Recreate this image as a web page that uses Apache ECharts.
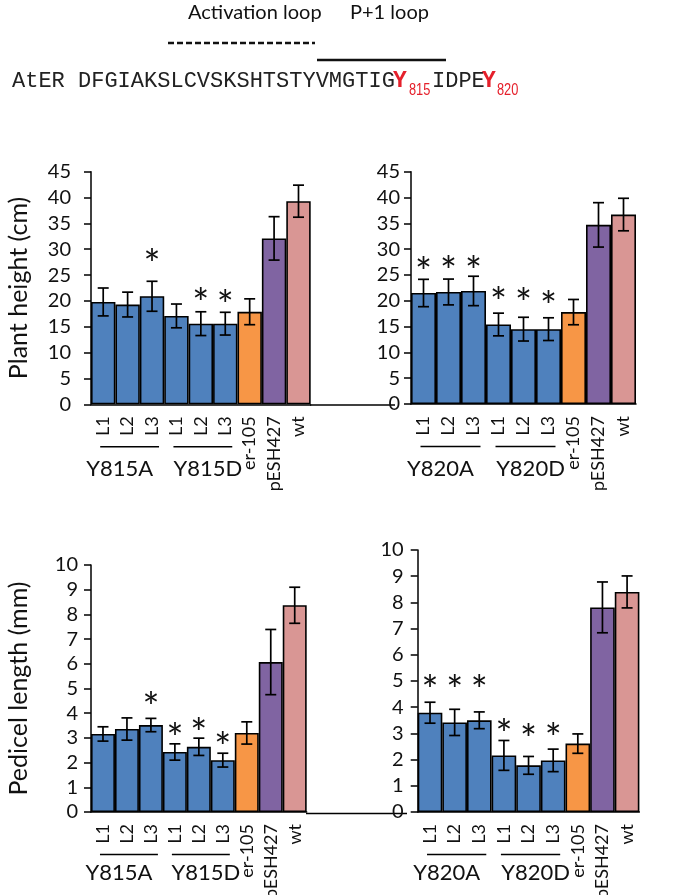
<!DOCTYPE html>
<html><head><meta charset="utf-8">
<script src="https://cdn.jsdelivr.net/npm/echarts@6/dist/echarts.min.js"></script>
<style>html,body{margin:0;padding:0;background:#fff}#c{width:700px;height:895px}</style>
</head><body><div id="c"></div>
<script>
// ---------- data ----------
const categories = ['L1','L2','L3','L1','L2','L3','er-105','pESH427','wt'];
const groupsY815 = ['Y815A','Y815D'];
const groupsY820 = ['Y820A','Y820D'];

const heightY815      = [19.8, 19.3, 20.9, 17.1, 15.6, 15.6, 17.9, 32.1, 39.3];
const heightY815Err   = [2.7, 2.4, 2.9, 2.3, 2.3, 2.2, 2.5, 4.2, 3.1];
const heightY815Stars = [null, null, 28.6, null, 21.1, 20.8, null, null, null];

const heightY820      = [21.5, 21.7, 21.9, 15.4, 14.5, 14.5, 17.8, 34.7, 36.7];
const heightY820Err   = [2.65, 2.5, 2.85, 2.2, 2.3, 2.2, 2.45, 4.3, 3.15];
const heightY820Stars = [27.1, 27.2, 27.2, 21.3, 21.0, 20.6, null, null, null];

const pedicelY815      = [3.16, 3.36, 3.52, 2.43, 2.64, 2.10, 3.20, 6.07, 8.37];
const pedicelY815Err   = [0.29, 0.45, 0.27, 0.33, 0.35, 0.28, 0.45, 1.32, 0.73];
const pedicelY815Stars = [null, null, 4.56, 3.32, 3.52, 2.94, null, null, null];

const pedicelY820      = [3.79, 3.42, 3.50, 2.16, 1.78, 1.97, 2.61, 7.81, 8.40];
const pedicelY820Err   = [0.40, 0.50, 0.32, 0.57, 0.34, 0.43, 0.37, 0.97, 0.61];
const pedicelY820Stars = [4.97, 4.97, 4.97, 3.26, 3.09, 3.13, null, null, null];

const heightTicks = {min: 0, max: 45, interval: 5};
const pedicelTicks = {min: 0, max: 10, interval: 1};

// ---------- styles ----------
const colorBlue = '#4F81BD', colorOrange = '#F79646', colorPurple = '#8064A2', colorPink = '#D99694';
const barColorFor = (i) => i < 6 ? colorBlue : (i === 6 ? colorOrange : (i === 7 ? colorPurple : colorPink));
const FONT = 'Lato';
const TXT = '#111';

const panels = [
  {grid: {left: 91, top: 171.7, width: 219.7, height: 232.6}, vals: heightY815, err: heightY815Err, stars: heightY815Stars, ticks: heightTicks, name: 'Plant height (cm)', labelMargin: 20, groups: groupsY815},
  {grid: {left: 411, top: 171.7, width: 225, height: 232.3}, vals: heightY820, err: heightY820Err, stars: heightY820Stars, ticks: heightTicks, name: '', labelMargin: 11, groups: groupsY820},
  {grid: {left: 91, top: 565, width: 215.7, height: 247}, vals: pedicelY815, err: pedicelY815Err, stars: pedicelY815Stars, ticks: pedicelTicks, name: 'Pedicel length (mm)', labelMargin: 13, groups: groupsY815},
  {grid: {left: 417.7, top: 550, width: 221.7, height: 262}, vals: pedicelY820, err: pedicelY820Err, stars: pedicelY820Stars, ticks: pedicelTicks, name: '', labelMargin: 14, groups: groupsY820}
];

const chart = echarts.init(document.getElementById('c'), null, {renderer: 'canvas'});

const grid = [], xAxis = [], yAxis = [], series = [];
panels.forEach((p, k) => {
  grid.push(Object.assign({outerBoundsMode: 'none', containLabel: false}, p.grid));
  xAxis.push({
    type: 'category', gridIndex: k, data: categories,
    axisLine: {show: true, lineStyle: {color: '#000', width: 1.5}},
    axisTick: {show: false},
    axisLabel: {rotate: 90, interval: 0, margin: 12, fontFamily: FONT, fontSize: 18, color: TXT},
    splitLine: {show: false}
  });
  yAxis.push({
    type: 'value', gridIndex: k, min: p.ticks.min, max: p.ticks.max, interval: p.ticks.interval,
    axisLine: {show: true, lineStyle: {color: '#000', width: 1.5}},
    axisTick: {show: true, length: 7, lineStyle: {color: '#000', width: 1.5}},
    axisLabel: {margin: p.labelMargin, fontFamily: FONT, fontSize: 20, color: TXT},
    splitLine: {show: false},
    name: p.name, nameLocation: 'middle', nameGap: 60, nameRotate: 90,
    nameTextStyle: {fontFamily: FONT, fontSize: 25, color: TXT}
  });
  series.push({
    type: 'bar', xAxisIndex: k, yAxisIndex: k, barCategoryGap: '0%', z: 2,
    data: p.vals.map((v, i) => ({value: v, itemStyle: {color: barColorFor(i)}})),
    itemStyle: {borderColor: '#000', borderWidth: 1.6},
    silent: true, animation: false
  });
  series.push({
    type: 'custom', xAxisIndex: k, yAxisIndex: k, animation: false, silent: true, z: 10,
    data: p.vals.map((v, i) => [i, v, p.err[i]]),
    renderItem: (params, api) => {
      const i = api.value(0), m = api.value(1), e = api.value(2);
      const top = api.coord([i, m + e]), bot = api.coord([i, m - e]);
      const w = 5.5;
      const st = {stroke: '#000', lineWidth: 1.7};
      return {type: 'group', children: [
        {type: 'line', shape: {x1: top[0], y1: top[1], x2: bot[0], y2: bot[1]}, style: st},
        {type: 'line', shape: {x1: top[0]-w, y1: top[1], x2: top[0]+w, y2: top[1]}, style: st},
        {type: 'line', shape: {x1: bot[0]-w, y1: bot[1], x2: bot[0]+w, y2: bot[1]}, style: st}
      ]};
    }
  });
  series.push({
    type: 'custom', xAxisIndex: k, yAxisIndex: k, animation: false, silent: true, z: 10,
    data: p.stars.map((s, i) => s == null ? null : [i, s]).filter(d => d),
    renderItem: (params, api) => {
      const c = api.coord([api.value(0), api.value(1)]);
      return {type: 'text', x: c[0], y: c[1] + 10, style: {text: '*', fontFamily: FONT, fontSize: 40, fill: TXT, align: 'center', verticalAlign: 'middle'}};
    }
  });
});

chart.setOption({animation: false, backgroundColor: '#fff', grid, xAxis, yAxis, series});

// ---------- decorations: group labels, header ----------
const graphic = [];
panels.forEach((p, k) => {
  const px = (i) => chart.convertToPixel({xAxisIndex: k}, i);
  const axisY = p.grid.top + p.grid.height;
  const lineY = axisY + 42.5;
  const textY = axisY + (k < 2 ? 65 : 61);
  [[0, 2, -8], [3, 5, 7]].forEach(([a, b, off], g) => {
    const x1 = px(a) - 3, x2 = px(b) + 7;
    graphic.push({type: 'line', shape: {x1, y1: lineY, x2, y2: lineY}, style: {stroke: '#000', lineWidth: 1.5}});
    graphic.push({type: 'text', x: (px(a) + px(b)) / 2 + off, y: textY, style: {text: p.groups[g], fontFamily: FONT, fontSize: 22, fill: TXT, align: 'center', verticalAlign: 'middle'}});
  });
});
// baseline extensions to the right of the left panels
graphic.push({type: 'line', shape: {x1: 310, y1: 405, x2: 395, y2: 405}, style: {stroke: '#000', lineWidth: 1.3}});
graphic.push({type: 'line', shape: {x1: 306, y1: 813.5, x2: 407, y2: 813.5}, style: {stroke: '#000', lineWidth: 1.3}});

// header
graphic.push({type: 'text', x: 188, y: 13, style: {text: 'Activation loop', fontFamily: FONT, fontSize: 20, fill: TXT, verticalAlign: 'middle'}});
graphic.push({type: 'text', x: 350, y: 13, style: {text: 'P+1 loop', fontFamily: FONT, fontSize: 20, fill: TXT, verticalAlign: 'middle'}});
graphic.push({type: 'line', shape: {x1: 168, y1: 43, x2: 315, y2: 43}, style: {stroke: '#111', lineWidth: 2.5, lineDash: [6, 3]}});
graphic.push({type: 'line', shape: {x1: 317, y1: 60, x2: 446, y2: 60}, style: {stroke: '#111', lineWidth: 2.5}});
const MONO = 'Liberation Mono';
const SUB = 'Liberation Sans';
graphic.push({type: 'text', x: 12, y: 81, style: {text: 'AtER DFGIAKSLCVSKSHTSTYVMGTIG', fontFamily: MONO, fontSize: 22, fill: '#222', verticalAlign: 'middle'}});
graphic.push({type: 'text', x: 393, y: 81, style: {text: 'Y', fontFamily: MONO, fontSize: 23, fontWeight: 'bold', fill: '#E5202B', verticalAlign: 'middle'}});
graphic.push({type: 'text', x: 409, y: 91, scaleX: 0.8, style: {text: '815', fontFamily: SUB, fontSize: 16, fill: '#E5202B', verticalAlign: 'middle'}});
graphic.push({type: 'text', x: 432, y: 81, style: {text: 'IDPE', fontFamily: MONO, fontSize: 22, fill: '#222', verticalAlign: 'middle'}});
graphic.push({type: 'text', x: 482, y: 81, style: {text: 'Y', fontFamily: MONO, fontSize: 23, fontWeight: 'bold', fill: '#E5202B', verticalAlign: 'middle'}});
graphic.push({type: 'text', x: 497, y: 91, scaleX: 0.8, style: {text: '820', fontFamily: SUB, fontSize: 16, fill: '#E5202B', verticalAlign: 'middle'}});

chart.setOption({graphic: graphic.map(g => Object.assign({silent: true}, g))});
</script>
</body></html>
